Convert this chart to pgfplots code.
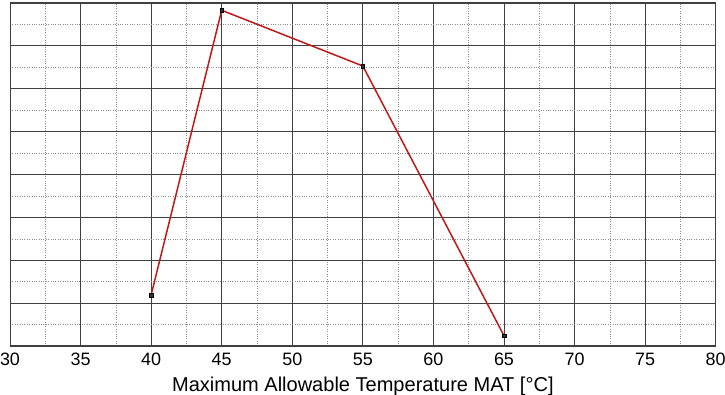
\documentclass[border=0pt]{standalone}
\usepackage{fontspec}
\setmainfont{Liberation Sans}
\usepackage{pgfplots}
\pgfplotsset{compat=1.18}
\usetikzlibrary{calc}
\begin{document}
\begin{tikzpicture}[x=1bp,y=1bp]
\begin{axis}[
  name=ax,
  scale only axis,
  width=705.7bp, height=343bp,
  xmin=30, xmax=80, ymin=0, ymax=8,
  xtick={30,35,...,80},
  ytick={0,1,...,8},
  yticklabels={},
  minor x tick num=1,
  minor y tick num=1,
  major tick length=0pt, minor tick length=0pt,
  grid=both,
  major grid style={draw=black!75, line width=0.8pt},
  minor grid style={draw=black!45, dotted, line width=0.6pt},
  axis line style={draw=black!75, line width=1pt},
  tick label style={font=\fontsize{18}{21}\selectfont},
  /pgf/number format/assume math mode=true,
  xticklabel style={anchor=base, yshift=-19.5bp},
  xlabel={Maximum Allowable Temperature MAT [°C]},
  xlabel style={font=\fontsize{20.1}{23}\selectfont, at={(axis description cs:0.5,0)}, anchor=base, yshift=-45.5bp},
]
\addplot[color={rgb,255:red,190;green,25;blue,25}, line width=1.5pt,
  mark=square*, mark size=1.7pt, mark options={draw=black, fill=black!80, line width=0.3pt}]
  coordinates {(40,1.19) (45,7.83) (55,6.53) (65,0.24)};
\end{axis}
\pgfresetboundingbox
\path[use as bounding box] ($(ax.south west)+(-10bp,-49bp)$) rectangle ($(ax.north east)+(9.3bp,3bp)$);
\end{tikzpicture}
\end{document}
